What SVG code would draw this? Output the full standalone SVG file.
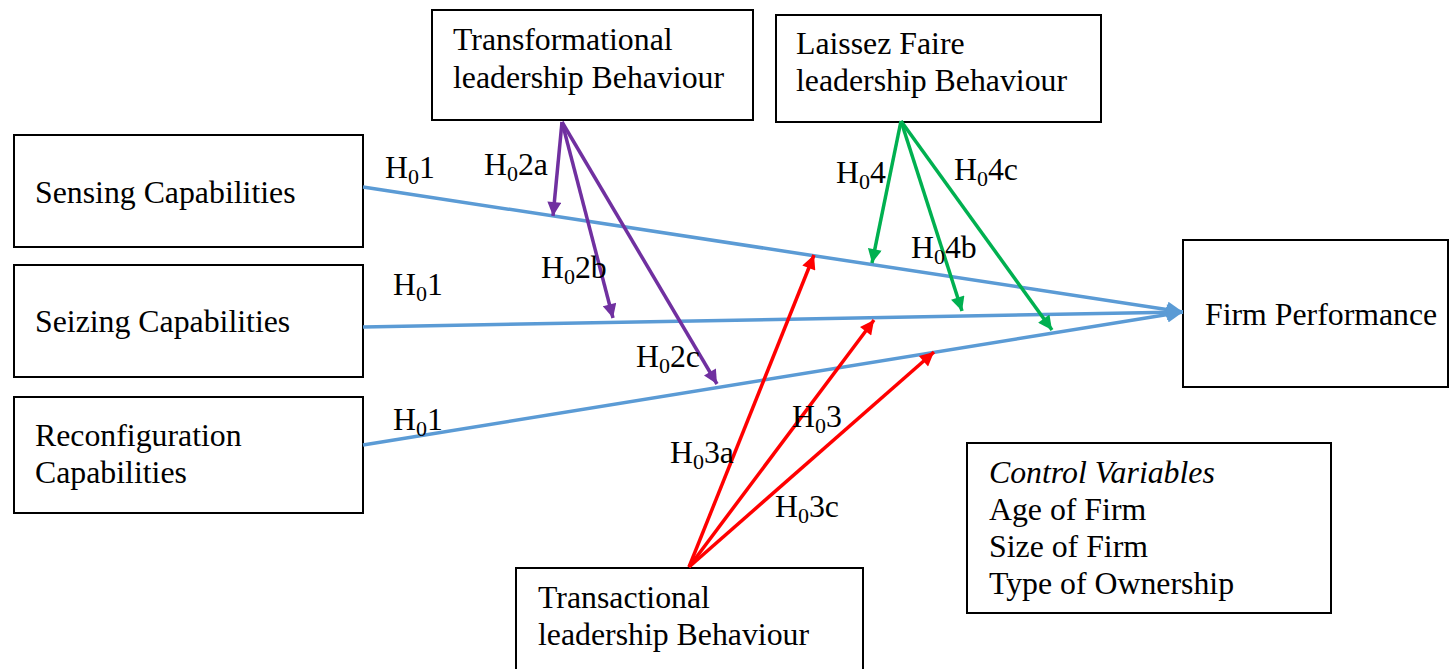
<svg xmlns="http://www.w3.org/2000/svg" width="1449" height="669" viewBox="0 0 1449 669">
<style>
.box{fill:#fff;stroke:#000;stroke-width:2}
.t{font-family:"Liberation Serif","Times New Roman",serif;font-size:31.8px;fill:#000}
.s{font-size:22px}
.ln{fill:none;stroke-width:3.5}
.blue{stroke:#5B9BD5}
.purple{stroke:#7030A0}
.green{stroke:#00B050}
.red{stroke:#FF0000}
</style>
<defs>
<marker id="ab" viewBox="0 0 10 10" refX="10" refY="5" markerWidth="17" markerHeight="16" markerUnits="userSpaceOnUse" orient="auto"><path d="M0,0 L10,5 L0,10 z" fill="#5B9BD5"/></marker>
<marker id="ap" viewBox="0 0 10 10" refX="10" refY="5" markerWidth="16" markerHeight="14" markerUnits="userSpaceOnUse" orient="auto"><path d="M0,0 L10,5 L0,10 z" fill="#7030A0"/></marker>
<marker id="ag" viewBox="0 0 10 10" refX="10" refY="5" markerWidth="16" markerHeight="14" markerUnits="userSpaceOnUse" orient="auto"><path d="M0,0 L10,5 L0,10 z" fill="#00B050"/></marker>
<marker id="ar" viewBox="0 0 10 10" refX="10" refY="5" markerWidth="16" markerHeight="14" markerUnits="userSpaceOnUse" orient="auto"><path d="M0,0 L10,5 L0,10 z" fill="#FF0000"/></marker>
</defs>
<rect width="1449" height="669" fill="#fff"/>

<g id="sensing">
<rect class="box" x="14" y="135" width="349" height="112"/>
<text class="t" x="35" y="203">Sensing Capabilities</text>
</g>
<g id="seizing">
<rect class="box" x="14" y="265" width="349" height="112"/>
<text class="t" x="35" y="332">Seizing Capabilities</text>
</g>
<g id="reconfiguration">
<rect class="box" x="14" y="397" width="349" height="116"/>
<text class="t" x="35" y="446">Reconfiguration</text>
<text class="t" x="35" y="483">Capabilities</text>
</g>
<g id="transformational">
<rect class="box" x="432" y="10" width="321" height="110"/>
<text class="t" x="453" y="50">Transformational</text>
<text class="t" x="453" y="88">leadership Behaviour</text>
</g>
<g id="laissez">
<rect class="box" x="776" y="15" width="325" height="107"/>
<text class="t" x="796" y="54">Laissez Faire</text>
<text class="t" x="796" y="91">leadership Behaviour</text>
</g>
<g id="firm">
<rect class="box" x="1183" y="240" width="265" height="147"/>
<text class="t" x="1205" y="325">Firm Performance</text>
</g>
<g id="control">
<rect class="box" x="967" y="443" width="364" height="170"/>
<text class="t" x="989" y="483" font-style="italic">Control Variables</text>
<text class="t" x="989" y="520">Age of Firm</text>
<text class="t" x="989" y="557">Size of Firm</text>
<text class="t" x="989" y="594">Type of Ownership</text>
</g>
<g id="transactional">
<rect class="box" x="516" y="568" width="347" height="110"/>
<text class="t" x="538" y="608">Transactional</text>
<text class="t" x="538" y="645">leadership Behaviour</text>
</g>

<g id="connectors">
<line class="ln blue" x1="363" y1="187" x2="1183" y2="312" marker-end="url(#ab)"/>
<line class="ln blue" x1="363" y1="327" x2="1183" y2="312" marker-end="url(#ab)"/>
<line class="ln blue" x1="363" y1="445" x2="1183" y2="312" marker-end="url(#ab)"/>

<line class="ln purple" x1="562" y1="122" x2="553" y2="216" marker-end="url(#ap)"/>
<line class="ln purple" x1="562" y1="122" x2="613" y2="318" marker-end="url(#ap)"/>
<line class="ln purple" x1="562" y1="122" x2="717" y2="384" marker-end="url(#ap)"/>

<line class="ln green" x1="901" y1="121" x2="872" y2="263" marker-end="url(#ag)"/>
<line class="ln green" x1="901" y1="121" x2="962" y2="311" marker-end="url(#ag)"/>
<line class="ln green" x1="901" y1="121" x2="1052" y2="330" marker-end="url(#ag)"/>

<line class="ln red" x1="689" y1="567" x2="814" y2="255" marker-end="url(#ar)"/>
<line class="ln red" x1="689" y1="567" x2="874" y2="320" marker-end="url(#ar)"/>
<line class="ln red" x1="689" y1="567" x2="934" y2="352" marker-end="url(#ar)"/>
</g>

<g id="labels">
<text class="t" x="385" y="178">H<tspan class="s" dy="6">0</tspan><tspan dy="-6">1</tspan></text>
<text class="t" x="393" y="295">H<tspan class="s" dy="6">0</tspan><tspan dy="-6">1</tspan></text>
<text class="t" x="393" y="430">H<tspan class="s" dy="6">0</tspan><tspan dy="-6">1</tspan></text>
<text class="t" x="484" y="175">H<tspan class="s" dy="6">0</tspan><tspan dy="-6">2a</tspan></text>
<text class="t" x="541" y="278">H<tspan class="s" dy="6">0</tspan><tspan dy="-6">2b</tspan></text>
<text class="t" x="636" y="367">H<tspan class="s" dy="6">0</tspan><tspan dy="-6">2c</tspan></text>
<text class="t" x="836" y="183">H<tspan class="s" dy="6">0</tspan><tspan dy="-6">4</tspan></text>
<text class="t" x="954" y="180">H<tspan class="s" dy="6">0</tspan><tspan dy="-6">4c</tspan></text>
<text class="t" x="911" y="258">H<tspan class="s" dy="6">0</tspan><tspan dy="-6">4b</tspan></text>
<text class="t" x="792" y="427">H<tspan class="s" dy="6">0</tspan><tspan dy="-6">3</tspan></text>
<text class="t" x="670" y="463">H<tspan class="s" dy="6">0</tspan><tspan dy="-6">3a</tspan></text>
<text class="t" x="775" y="517">H<tspan class="s" dy="6">0</tspan><tspan dy="-6">3c</tspan></text>
</g>
</svg>
